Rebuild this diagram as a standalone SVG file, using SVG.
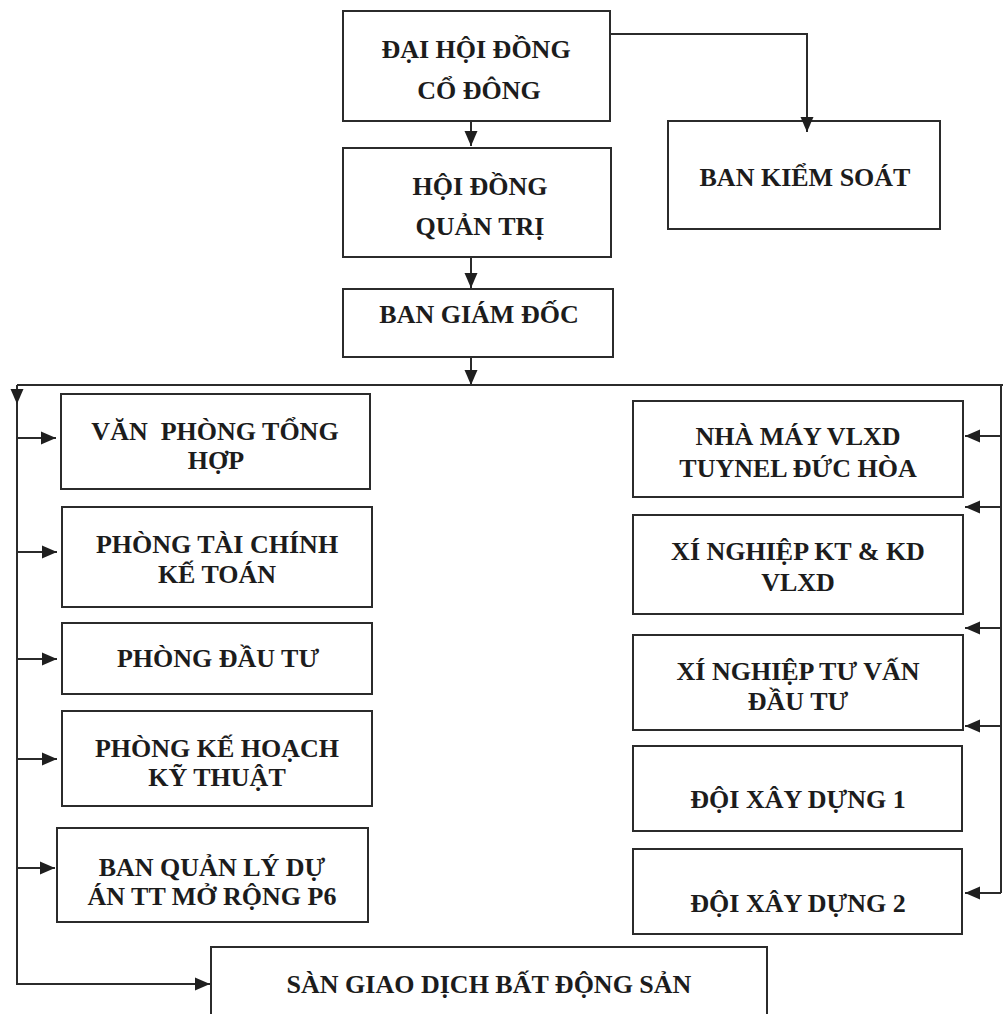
<svg xmlns="http://www.w3.org/2000/svg" width="1003" height="1014" viewBox="0 0 1003 1014">
<style>
.box{fill:#ffffff;stroke:#2b2b2b;stroke-width:2}
.t{font-family:"Liberation Serif","Times New Roman",serif;font-weight:bold;font-size:26px;fill:#1c1c1c;text-anchor:middle}
.c{fill:none;stroke:#2b2b2b;stroke-width:2}
</style>
<defs>
<marker id="ah" markerUnits="userSpaceOnUse" markerWidth="16" markerHeight="14" refX="15" refY="7" orient="auto">
<path d="M0,0.5 L15,7 L0,13.5 z" fill="#1f1f1f"/>
</marker>
</defs>
<rect width="1003" height="1014" fill="#ffffff"/>
<g id="dhdcd">
<rect class="box" x="343" y="11" width="267" height="110"/>
<text class="t" x="476" y="58">ĐẠI HỘI ĐỒNG</text>
<text class="t" x="479" y="99">CỔ ĐÔNG</text>
</g>
<g id="bks">
<rect class="box" x="668" y="121" width="272" height="108"/>
<text class="t" x="805" y="186">BAN KIỂM SOÁT</text>
</g>
<g id="hdqt">
<rect class="box" x="343" y="148" width="268" height="109"/>
<text class="t" x="480" y="195">HỘI ĐỒNG</text>
<text class="t" x="480" y="235">QUẢN TRỊ</text>
</g>
<g id="bgd">
<rect class="box" x="343" y="289" width="270" height="68"/>
<text class="t" x="479" y="323">BAN GIÁM ĐỐC</text>
</g>
<g id="vpth">
<rect class="box" x="61" y="394" width="309" height="95"/>
<text class="t" x="215" y="440" xml:space="preserve">VĂN  PHÒNG TỔNG</text>
<text class="t" x="216" y="469">HỢP</text>
</g>
<g id="ptckt">
<rect class="box" x="62" y="507" width="310" height="100"/>
<text class="t" x="217" y="553">PHÒNG TÀI CHÍNH</text>
<text class="t" x="217" y="583">KẾ TOÁN</text>
</g>
<g id="pdt">
<rect class="box" x="62" y="623" width="310" height="71"/>
<text class="t" x="218" y="667">PHÒNG ĐẦU TƯ</text>
</g>
<g id="pkhkt">
<rect class="box" x="62" y="711" width="310" height="95"/>
<text class="t" x="217" y="757">PHÒNG KẾ HOẠCH</text>
<text class="t" x="217" y="786">KỸ THUẬT</text>
</g>
<g id="bqlda">
<rect class="box" x="57" y="828" width="311" height="94"/>
<text class="t" x="212" y="876">BAN QUẢN LÝ DỰ</text>
<text class="t" x="212" y="905">ÁN TT MỞ RỘNG P6</text>
</g>
<g id="sgd">
<rect class="box" x="211" y="947" width="556" height="80"/>
<text class="t" x="489" y="993">SÀN GIAO DỊCH BẤT ĐỘNG SẢN</text>
</g>
<g id="nmvlxd">
<rect class="box" x="633" y="401" width="330" height="96"/>
<text class="t" x="798" y="445">NHÀ MÁY VLXD</text>
<text class="t" x="798" y="477">TUYNEL ĐỨC HÒA</text>
</g>
<g id="xnkt">
<rect class="box" x="633" y="515" width="330" height="99"/>
<text class="t" x="798" y="560">XÍ NGHIỆP KT &amp; KD</text>
<text class="t" x="798" y="591">VLXD</text>
</g>
<g id="xntv">
<rect class="box" x="633" y="635" width="330" height="95"/>
<text class="t" x="798" y="680">XÍ NGHIỆP TƯ VẤN</text>
<text class="t" x="798" y="710">ĐẦU TƯ</text>
</g>
<g id="dxd1">
<rect class="box" x="633" y="746" width="329" height="85"/>
<text class="t" x="798" y="808">ĐỘI XÂY DỰNG 1</text>
</g>
<g id="dxd2">
<rect class="box" x="633" y="849" width="329" height="85"/>
<text class="t" x="798" y="912">ĐỘI XÂY DỰNG 2</text>
</g>
<g id="connectors">
<path class="c" d="M471,121 V146" marker-end="url(#ah)"/>
<path class="c" d="M610,34 H807 V132" marker-end="url(#ah)"/>
<path class="c" d="M471,257 V288" marker-end="url(#ah)"/>
<path class="c" d="M471,357 V385" marker-end="url(#ah)"/>
<path class="c" d="M17,385 H1003"/>
<path class="c" d="M17,385 V404" marker-end="url(#ah)"/>
<path class="c" d="M17,404 V984 H210" marker-end="url(#ah)"/>
<path class="c" d="M17,438 H56" marker-end="url(#ah)"/>
<path class="c" d="M17,552 H57" marker-end="url(#ah)"/>
<path class="c" d="M17,659 H57" marker-end="url(#ah)"/>
<path class="c" d="M17,759 H57" marker-end="url(#ah)"/>
<path class="c" d="M17,868 H55" marker-end="url(#ah)"/>
<path class="c" d="M1001,385 V893"/>
<path class="c" d="M1001,436 H965" marker-end="url(#ah)"/>
<path class="c" d="M1001,507 H965" marker-end="url(#ah)"/>
<path class="c" d="M1001,628 H965" marker-end="url(#ah)"/>
<path class="c" d="M1001,726 H965" marker-end="url(#ah)"/>
<path class="c" d="M1001,893 H965" marker-end="url(#ah)"/>
</g>
</svg>
